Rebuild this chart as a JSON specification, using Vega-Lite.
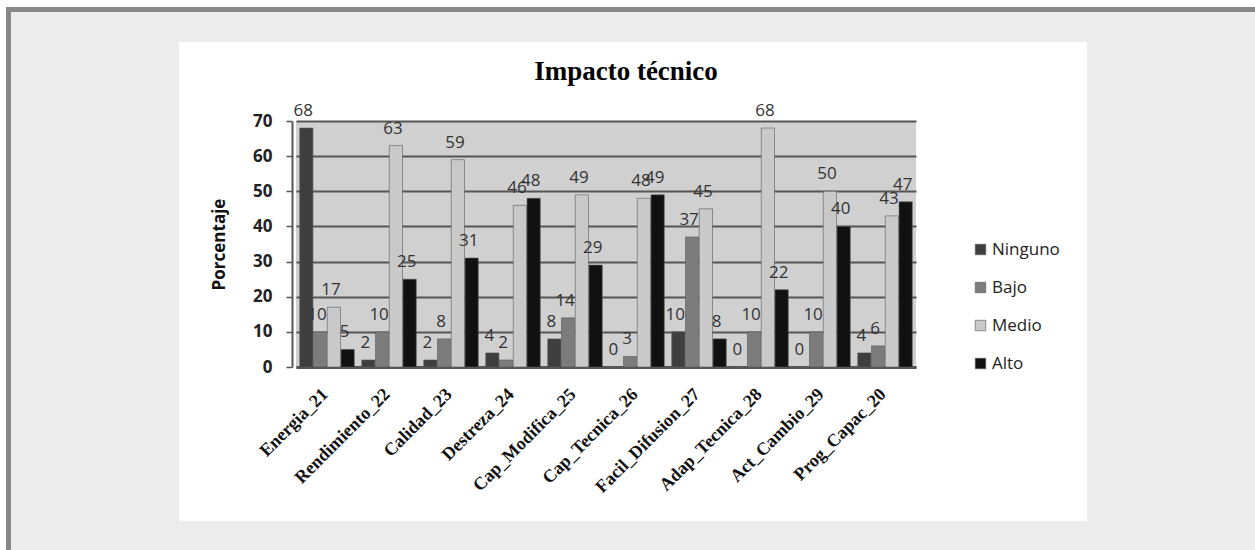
{
  "$schema": "https://vega.github.io/schema/vega-lite/v6.json",
  "background": "white",
  "padding": 0,
  "data": {"values": []},
  "columns": 7,
  "spacing": 0,
  "align": "each",
  "bounds": "flush",
  "resolve": {"scale": {"color": "independent"}, "legend": {"color": "independent"}},
  "config": {"view": {"stroke": null}},
  "concat": [
    {"width": 6, "height": 7, "mark": "point", "encoding": {}},
    {"width": 5, "height": 7, "mark": "point", "encoding": {}},
    {"width": 168, "height": 7, "mark": "point", "encoding": {}},
    {"width": 117, "height": 7, "mark": "point", "encoding": {}},
    {"width": 620, "height": 7, "mark": "point", "encoding": {}},
    {"width": 171, "height": 7, "mark": "point", "encoding": {}},
    {"width": 168, "height": 7, "mark": "point", "encoding": {}},

    {"width": 6, "height": 5, "mark": "point", "encoding": {}},
    {"width": 5, "height": 5, "mark": "point", "encoding": {}, "view": {"fill": "#888888"}},
    {"width": 168, "height": 5, "mark": "point", "encoding": {}, "view": {"fill": "#888888"}},
    {"width": 117, "height": 5, "mark": "point", "encoding": {}, "view": {"fill": "#888888"}},
    {"width": 620, "height": 5, "mark": "point", "encoding": {}, "view": {"fill": "#888888"}},
    {"width": 171, "height": 5, "mark": "point", "encoding": {}, "view": {"fill": "#888888"}},
    {"width": 168, "height": 5, "mark": "point", "encoding": {}, "view": {"fill": "#888888"}},

    {"width": 6, "height": 30, "mark": "point", "encoding": {}},
    {"width": 5, "height": 30, "mark": "point", "encoding": {}, "view": {"fill": "#888888"}},
    {"width": 168, "height": 30, "mark": "point", "encoding": {}, "view": {"fill": "#ebeceb"}},
    {"width": 117, "height": 30, "mark": "point", "encoding": {}, "view": {"fill": "#ebeceb"}},
    {"width": 620, "height": 30, "mark": "point", "encoding": {}, "view": {"fill": "#ebeceb"}},
    {"width": 171, "height": 30, "mark": "point", "encoding": {}, "view": {"fill": "#ebeceb"}},
    {"width": 168, "height": 30, "mark": "point", "encoding": {}, "view": {"fill": "#ebeceb"}},

    {"width": 6, "height": 79, "mark": "point", "encoding": {}},
    {"width": 5, "height": 79, "mark": "point", "encoding": {}, "view": {"fill": "#888888"}},
    {"width": 168, "height": 79, "mark": "point", "encoding": {}, "view": {"fill": "#ebeceb"}},
    {"width": 117, "height": 79, "mark": "point", "encoding": {}},
    {"width": 620, "height": 79, "mark": "point", "encoding": {}},
    {"width": 171, "height": 79, "mark": "point", "encoding": {}},
    {"width": 168, "height": 79, "mark": "point", "encoding": {}, "view": {"fill": "#ebeceb"}},

    {"width": 6, "height": 246, "mark": "point", "encoding": {}},
    {"width": 5, "height": 246, "mark": "point", "encoding": {}, "view": {"fill": "#888888"}},
    {"width": 168, "height": 246, "mark": "point", "encoding": {}, "view": {"fill": "#ebeceb"}},
    {"width": 117, "height": 246, "mark": "point", "encoding": {}},
    {
      "width": 620,
      "height": 246,
      "view": {"fill": "#d0d0d0"},
      "title": {"text": "Impacto  técnico", "font": "Liberation Serif", "fontSize": 27, "fontWeight": "bold", "color": "#000000", "dx": 20, "offset": 16, "anchor": "middle"},
      "data": {"values": [
        {"item": "Energia_21", "nivel": "Ninguno", "valor": 68},
        {"item": "Energia_21", "nivel": "Bajo", "valor": 10},
        {"item": "Energia_21", "nivel": "Medio", "valor": 17},
        {"item": "Energia_21", "nivel": "Alto", "valor": 5},
        {"item": "Rendimiento_22", "nivel": "Ninguno", "valor": 2},
        {"item": "Rendimiento_22", "nivel": "Bajo", "valor": 10},
        {"item": "Rendimiento_22", "nivel": "Medio", "valor": 63},
        {"item": "Rendimiento_22", "nivel": "Alto", "valor": 25},
        {"item": "Calidad_23", "nivel": "Ninguno", "valor": 2},
        {"item": "Calidad_23", "nivel": "Bajo", "valor": 8},
        {"item": "Calidad_23", "nivel": "Medio", "valor": 59},
        {"item": "Calidad_23", "nivel": "Alto", "valor": 31},
        {"item": "Destreza_24", "nivel": "Ninguno", "valor": 4},
        {"item": "Destreza_24", "nivel": "Bajo", "valor": 2},
        {"item": "Destreza_24", "nivel": "Medio", "valor": 46},
        {"item": "Destreza_24", "nivel": "Alto", "valor": 48},
        {"item": "Cap_Modifica_25", "nivel": "Ninguno", "valor": 8},
        {"item": "Cap_Modifica_25", "nivel": "Bajo", "valor": 14},
        {"item": "Cap_Modifica_25", "nivel": "Medio", "valor": 49},
        {"item": "Cap_Modifica_25", "nivel": "Alto", "valor": 29},
        {"item": "Cap_Tecnica_26", "nivel": "Ninguno", "valor": 0},
        {"item": "Cap_Tecnica_26", "nivel": "Bajo", "valor": 3},
        {"item": "Cap_Tecnica_26", "nivel": "Medio", "valor": 48},
        {"item": "Cap_Tecnica_26", "nivel": "Alto", "valor": 49},
        {"item": "Facil_Difusion_27", "nivel": "Ninguno", "valor": 10},
        {"item": "Facil_Difusion_27", "nivel": "Bajo", "valor": 37},
        {"item": "Facil_Difusion_27", "nivel": "Medio", "valor": 45},
        {"item": "Facil_Difusion_27", "nivel": "Alto", "valor": 8},
        {"item": "Adap_Tecnica_28", "nivel": "Ninguno", "valor": 0},
        {"item": "Adap_Tecnica_28", "nivel": "Bajo", "valor": 10},
        {"item": "Adap_Tecnica_28", "nivel": "Medio", "valor": 68},
        {"item": "Adap_Tecnica_28", "nivel": "Alto", "valor": 22},
        {"item": "Act_Cambio_29", "nivel": "Ninguno", "valor": 0},
        {"item": "Act_Cambio_29", "nivel": "Bajo", "valor": 10},
        {"item": "Act_Cambio_29", "nivel": "Medio", "valor": 50},
        {"item": "Act_Cambio_29", "nivel": "Alto", "valor": 40},
        {"item": "Prog_Capac_20", "nivel": "Ninguno", "valor": 4},
        {"item": "Prog_Capac_20", "nivel": "Bajo", "valor": 6},
        {"item": "Prog_Capac_20", "nivel": "Medio", "valor": 43},
        {"item": "Prog_Capac_20", "nivel": "Alto", "valor": 47}
      ]},
      "encoding": {
        "x": {
          "field": "item", "type": "nominal", "sort": null,
          "scale": {"paddingInner": 0.12, "paddingOuter": 0.06},
          "axis": {
            "title": null, "labelAngle": -45, "labelFont": "Liberation Serif", "labelFontSize": 18,
            "labelFontWeight": "bold", "labelColor": "#111111", "ticks": false, "domainColor": "#555555",
            "domainWidth": 3, "labelPadding": 18, "labelOffset": -8
          }
        },
        "xOffset": {"field": "nivel", "type": "nominal", "sort": ["Ninguno", "Bajo", "Medio", "Alto"], "scale": {"paddingInner": 0.04}},
        "y": {
          "field": "valor", "type": "quantitative",
          "scale": {"domain": [0, 70], "nice": false},
          "axis": {
            "values": [0, 10, 20, 30, 40, 50, 60, 70], "title": "Porcentaje", "titleFont": "Open Sans",
            "titleFontSize": 17, "titleFontWeight": "bold", "titleColor": "#111111", "titlePadding": 24,
            "labelFont": "Open Sans", "labelFontSize": 17, "labelFontWeight": "bold", "labelColor": "#222222",
            "labelPadding": 14, "tickSize": 6, "tickColor": "#555555", "tickWidth": 1.5, "offset": 4,
            "domainColor": "#555555", "domainWidth": 2, "gridColor": "#555555", "gridWidth": 2
          }
        }
      },
      "layer": [
        {
          "mark": {"type": "bar", "stroke": "#5a5a5a", "strokeWidth": 0.6},
          "encoding": {
            "color": {
              "field": "nivel", "type": "nominal", "sort": ["Ninguno", "Bajo", "Medio", "Alto"],
              "scale": {"domain": ["Ninguno", "Bajo", "Medio", "Alto"], "range": ["#3e3e3e", "#7c7c7c", "#c9c9c9", "#111111"]},
              "legend": {
                "title": null, "orient": "none", "legendX": 676, "legendY": 120, "symbolType": "square",
                "symbolSize": 110, "symbolStrokeColor": "#555555", "symbolStrokeWidth": 0.6,
                "labelFont": "Open Sans", "labelFontSize": 17, "labelColor": "#222222", "rowPadding": 20,
                "labelOffset": 3, "padding": 0
              }
            }
          }
        },
        {
          "mark": {"type": "text", "baseline": "bottom", "dy": -8, "dx": -3, "font": "Open Sans", "fontSize": 17, "color": "#333333"},
          "encoding": {"text": {"field": "valor", "type": "quantitative"}}
        }
      ]
    },
    {"width": 171, "height": 246, "mark": "point", "encoding": {}},
    {"width": 168, "height": 246, "mark": "point", "encoding": {}, "view": {"fill": "#ebeceb"}},

    {"width": 6, "height": 154, "mark": "point", "encoding": {}},
    {"width": 5, "height": 154, "mark": "point", "encoding": {}, "view": {"fill": "#888888"}},
    {"width": 168, "height": 154, "mark": "point", "encoding": {}, "view": {"fill": "#ebeceb"}},
    {"width": 117, "height": 154, "mark": "point", "encoding": {}},
    {"width": 620, "height": 154, "mark": "point", "encoding": {}},
    {"width": 171, "height": 154, "mark": "point", "encoding": {}},
    {"width": 168, "height": 154, "mark": "point", "encoding": {}, "view": {"fill": "#ebeceb"}},

    {"width": 6, "height": 29, "mark": "point", "encoding": {}},
    {"width": 5, "height": 29, "mark": "point", "encoding": {}, "view": {"fill": "#888888"}},
    {"width": 168, "height": 29, "mark": "point", "encoding": {}, "view": {"fill": "#ebeceb"}},
    {"width": 117, "height": 29, "mark": "point", "encoding": {}, "view": {"fill": "#ebeceb"}},
    {"width": 620, "height": 29, "mark": "point", "encoding": {}, "view": {"fill": "#ebeceb"}},
    {"width": 171, "height": 29, "mark": "point", "encoding": {}, "view": {"fill": "#ebeceb"}},
    {"width": 168, "height": 29, "mark": "point", "encoding": {}, "view": {"fill": "#ebeceb"}}
  ]
}
